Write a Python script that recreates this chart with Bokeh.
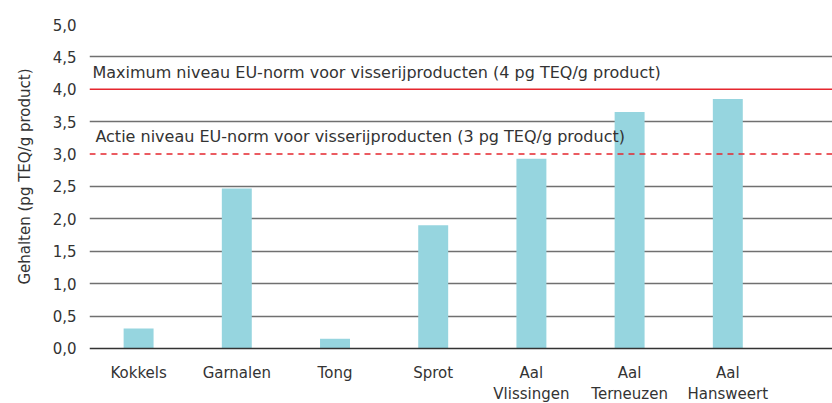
from bokeh.plotting import figure
from bokeh.models import FixedTicker, Span, Label, Title
from bokeh.core.properties import value
from bokeh.embed import file_html
from bokeh.resources import INLINE

categories = ["Kokkels", "Garnalen", "Tong", "Sprot", "Aal\nVlissingen", "Aal\nTerneuzen", "Aal\nHansweert"]
values = [0.31, 2.47, 0.15, 1.90, 2.93, 3.65, 3.85]
y_ticks = [0.0, 0.5, 1.0, 1.5, 2.0, 2.5, 3.0, 3.5, 4.0, 4.5, 5.0]
y_label = "Gehalten (pg TEQ/g product)"
max_level = 4.0
action_level = 3.0
max_text = "Maximum niveau EU-norm voor visserijproducten (4 pg TEQ/g product)"
action_text = "Actie niveau EU-norm voor visserijproducten (3 pg TEQ/g product)"

FONT = "DejaVu Sans"
TXT = "#333333"

xs = [i + 0.5 for i in range(len(categories))]

# the frame runs down to the bottom of the figure so that the category
# labels (drawn as text glyphs below zero) are not clipped
p = figure(width=832, height=403, output_backend="svg", toolbar_location=None,
           x_range=(0, 7.566), y_range=(-0.849, 5.0),
           min_border_left=89, min_border_right=0, min_border_top=24, min_border_bottom=0)
p.outline_line_color = None
p.background_fill_color = "white"
p.border_fill_color = "white"

p.vbar(x=xs, top=values, bottom=0, width=0.305, color="#96d5df", line_color=None)

# grid
p.xgrid.grid_line_color = None
p.ygrid.ticker = FixedTicker(ticks=[t for t in y_ticks if t not in (0.0, max_level, action_level)])
p.ygrid.grid_line_color = "#707070"
p.ygrid.grid_line_width = 1.5
p.ygrid.level = "underlay"

# baseline
p.add_layout(Span(location=0.0, dimension="width", line_color="#333333", line_width=1.5))

# y axis
p.yaxis.ticker = FixedTicker(ticks=y_ticks)
p.yaxis.major_label_overrides = {t: f"{t:.1f}".replace(".", ",") for t in y_ticks}
p.yaxis.axis_line_color = None
p.yaxis.major_tick_line_color = None
p.yaxis.minor_tick_line_color = None
p.yaxis.major_label_text_font = FONT
p.yaxis.major_label_text_font_size = "15px"
p.yaxis.major_label_text_color = TXT
p.yaxis.major_label_standoff = 7

p.add_layout(Title(text=y_label, align="right", offset=44, text_font=FONT,
                   text_font_size="15px", text_font_style="normal", text_color=TXT,
                   vertical_align="top", standoff=28), "left")

p.xaxis.visible = False

# category labels
p.text(x=xs, y=[0.0] * len(xs), text=categories, y_offset=16, text_align="center",
       text_baseline="top", text_font=value(FONT), text_font_size=value("15px"),
       text_color=TXT, text_line_height=1.15)

# norm lines
p.add_layout(Span(location=max_level, dimension="width", line_color="#e5262e", line_width=1.5))
p.add_layout(Span(location=action_level, dimension="width", line_color="#e5262e", line_width=1.5,
                  line_dash="6 5"))
p.add_layout(Label(x=0.03, y=max_level, y_offset=7, text=max_text, text_font=FONT,
                   text_font_size="16px", text_color=TXT, text_baseline="bottom"))
p.add_layout(Label(x=0.06, y=action_level, y_offset=8, text=action_text, text_font=FONT,
                   text_font_size="16px", text_color=TXT, text_baseline="bottom"))

open("out.html", "w").write(file_html(p, INLINE))
